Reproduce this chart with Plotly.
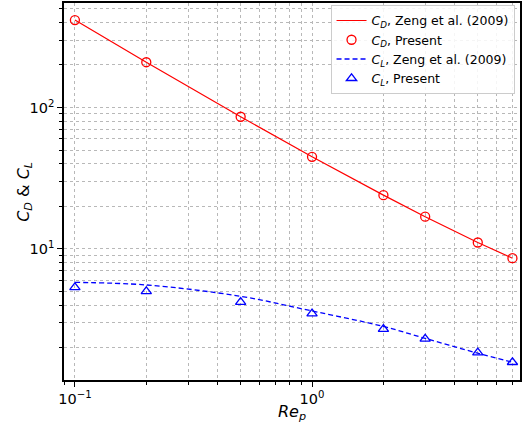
import plotly.graph_objects as go

# Data
re_points = [0.1, 0.2, 0.5, 1, 2, 3, 5, 7]
cd_zeng = [415, 209, 86, 44.8, 24, 16.9, 11.1, 8.6]
cd_present = [415, 209, 86, 44.8, 24, 16.9, 11.1, 8.6]
cl_present = [5.35, 5.01, 4.2, 3.49, 2.71, 2.31, 1.85, 1.58]
re_cl_zeng = [0.1, 0.2, 0.5, 1, 2, 3, 5, 7]
cl_zeng = [5.8, 5.56, 4.62, 3.64, 2.83, 2.33, 1.83, 1.58]

x_tickvals = [0.1, 1]
x_ticktext = ["10<sup>−1</sup>", "10<sup>0</sup>"]
y_tickvals = [10, 100]
y_ticktext = ["10<sup>1</sup>", "10<sup>2</sup>"]
y_title = "<i>C</i><sub><i>D</i></sub> & <i>C</i><sub><i>L</i></sub>"
x_title = "<i>Re</i><sub><i>p</i></sub>"

FONT = "DejaVu Sans"

fig = go.Figure()
fig.add_trace(go.Scatter(
    x=re_points, y=cd_zeng, mode="lines",
    line=dict(color="#ff0000", width=1.2),
    name="<i>C</i><sub><i>D</i></sub>, Zeng et al. (2009)"))
fig.add_trace(go.Scatter(
    x=re_points, y=cd_present, mode="markers",
    marker=dict(symbol="circle-open", color="#ff0000", size=9, line=dict(width=1.3)),
    name="<i>C</i><sub><i>D</i></sub>, Present"))
fig.add_trace(go.Scatter(
    x=re_cl_zeng, y=cl_zeng, mode="lines",
    line=dict(color="#0000ff", width=1.3, dash="5px,3px", shape="spline", smoothing=1),
    name="<i>C</i><sub><i>L</i></sub>, Zeng et al. (2009)"))
fig.add_trace(go.Scatter(
    x=re_points, y=cl_present, mode="markers",
    marker=dict(symbol="triangle-up-open", color="#0000ff", size=9, line=dict(width=1.3)),
    name="<i>C</i><sub><i>L</i></sub>, Present"))

grid_style = dict(showgrid=True, gridcolor="#b8b8b8", griddash="dot", gridwidth=1)

fig.update_layout(
    width=523, height=423,
    margin=dict(l=64, r=1, t=3, b=37),
    paper_bgcolor="white", plot_bgcolor="white",
    font=dict(family=FONT, color="black", size=14.5),
    showlegend=True,
    legend=dict(
        x=0.988, y=0.995, xanchor="right", yanchor="top",
        bgcolor="rgba(255,255,255,0.85)", bordercolor="#cccccc", borderwidth=1,
        font=dict(family=FONT, size=12.5),
        tracegroupgap=0,
    ),
    xaxis=dict(
        type="log", range=[-1.046, 0.877],
        tickvals=x_tickvals, ticktext=x_ticktext,
        ticks="outside", ticklen=5, tickwidth=1.2, tickcolor="black",
        showline=True, linecolor="black", linewidth=1.5, mirror=True,
        zeroline=False,
        title=dict(text=x_title, font=dict(size=16), standoff=4),
        minor=dict(dtick="D1", ticks="outside", ticklen=3, tickcolor="black",
                   showgrid=True, gridcolor="#b8b8b8", griddash="dot", gridwidth=1),
        **grid_style,
    ),
    yaxis=dict(
        type="log", range=[0.073, 2.739],
        tickvals=y_tickvals, ticktext=y_ticktext,
        ticks="outside", ticklen=5, tickwidth=1.2, tickcolor="black",
        showline=True, linecolor="black", linewidth=1.5, mirror=True,
        zeroline=False,
        minor=dict(dtick="D1", ticks="outside", ticklen=3, tickcolor="black",
                   showgrid=True, gridcolor="#b8b8b8", griddash="dot", gridwidth=1),
        **grid_style,
    ),
    annotations=[dict(
        text=y_title, textangle=-90, xref="paper", yref="paper",
        x=-0.087, y=0.5, xanchor="center", yanchor="middle",
        showarrow=False, font=dict(size=16, family=FONT),
    )],
)

fig.write_html("out.html", config={"displayModeBar": False},
               post_script="document.body.style.margin='0';")
